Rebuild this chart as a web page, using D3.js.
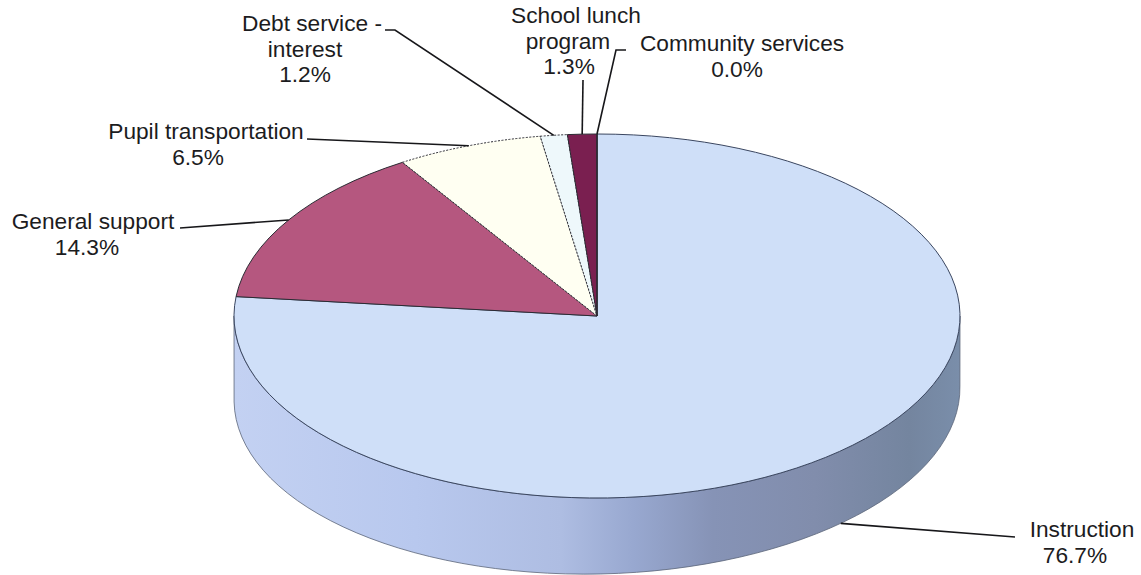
<!DOCTYPE html>
<html>
<head>
<meta charset="utf-8">
<script src="https://cdn.jsdelivr.net/npm/d3@7"></script>
<style>
html, body { margin: 0; padding: 0; background: #fff; }
svg { display: block; }
text { font-family: "Liberation Sans", Arial, sans-serif; font-size: 22.7px; fill: #1c1c1e; }
</style>
</head>
<body>
<svg id="chart" width="1141" height="575"></svg>
<script>
// Expenditure shares, clockwise from twelve o'clock
const categories = ["Instruction", "General support", "Pupil transportation",
  "Debt service - interest", "School lunch program", "Community services"];
const shares = [76.7, 14.3, 6.5, 1.2, 1.3, 0.0];
const labelLines = [
  ["Instruction"],
  ["General support"],
  ["Pupil transportation"],
  ["Debt service -", "interest"],
  ["School lunch", "program"],
  ["Community services"]
];

// Appearance of each slice
const sliceColors = ["#cfdff8", "#b5577f", "#fffff2", "#eef8fb", "#7a1f50", "#7a1f50"];

// Disc geometry; the lower rim of the wall sits on a slightly tilted ellipse
const cx = 597, cy = 316, rx = 363, ry = 182;
const wallCy = 394, wallRy = 180, wallTilt = -1.26 * Math.PI / 180;

// Label layout: first baseline, then the horizontal centre of every line
const labelBaselines = [537, 229, 139, 31, 23, 51];
const labelCentres = [
  [1082, 1075], [93, 87], [206, 198], [312, 305, 305], [576, 568, 569], [742, 737]
];
const lineHeight = 25.5;

// Leader bends, listed from the slice outward
const leaderBends = [
  [[1015, 537]], [[180, 228]], [[307, 139]],
  [[395, 30], [385, 30]], [[583, 80]], [[616, 50], [626, 50]]
];

const svg = d3.select("#chart");
const defs = svg.append("defs");

// Shading along the wall of the disc, left to right
const wallStops = [[0, "#c3d1f2"], [0.25, "#b8c8ee"], [0.45, "#aebde2"], [0.55, "#98a8d0"],
  [0.66, "#8693b6"], [0.8, "#818dac"], [0.93, "#74859f"], [1, "#7a8eaa"]];
const wallGrad = defs.append("linearGradient").attr("id", "wall")
  .attr("gradientUnits", "userSpaceOnUse")
  .attr("x1", cx - rx).attr("x2", cx + rx).attr("y1", 0).attr("y2", 0);
wallGrad.selectAll("stop").data(wallStops).join("stop")
  .attr("offset", d => d[0]).attr("stop-color", d => d[1]);

// Point on the lower rim for a pie angle
const wallRim = angle => {
  const lx = rx * Math.sin(angle), ly = -wallRy * Math.cos(angle);
  return [cx + lx * Math.cos(wallTilt) - ly * Math.sin(wallTilt),
          wallCy + lx * Math.sin(wallTilt) + ly * Math.cos(wallTilt)];
};
// Point on the top rim for a pie angle
const rim = angle => [cx + rx * Math.sin(angle), cy - ry * Math.cos(angle)];

// Visible front wall: lower half of the rim, extruded downward
const [wallLeftX, wallLeftY] = wallRim(-Math.PI / 2);
const [wallRightX, wallRightY] = wallRim(Math.PI / 2);
svg.append("path")
  .attr("d", `M${cx - rx},${cy} L${wallLeftX},${wallLeftY}
    A${rx},${wallRy} ${wallTilt * 180 / Math.PI} 0 0 ${wallRightX},${wallRightY} L${cx + rx},${cy}
    A${rx},${ry} 0 0 1 ${cx - rx},${cy} Z`)
  .attr("fill", "url(#wall)")
  .attr("stroke", "#5b6478").attr("stroke-width", 0.8);

// Top face: a regular pie squashed vertically
const pie = d3.pie().sort(null).value(d => d);
const arcs = pie(shares);
const arc = d3.arc().innerRadius(0).outerRadius(rx);

svg.append("g").attr("transform", `translate(${cx},${cy}) scale(1,${ry / rx})`)
  .selectAll("path").data(arcs).join("path")
  .attr("d", arc)
  .attr("fill", (d, i) => sliceColors[i])
  .attr("stroke", (d, i) => i === 0 ? "#3a4660" : "#2b2b33")
  .attr("stroke-width", 1)
  .attr("stroke-dasharray", (d, i) => i === 2 || i === 3 ? "2 1.5" : null)
  .attr("vector-effect", "non-scaling-stroke");

const mid = d => (d.startAngle + d.endAngle) / 2;

// Leaders run from each slice's rim to its label; Instruction leaves from the wall
const leaderStart = (d, i) => i === 0 ? wallRim(2.416) : rim(mid(d));
const line = d3.line();
svg.append("g").selectAll("path").data(arcs).join("path")
  .attr("d", (d, i) => line([leaderStart(d, i), ...leaderBends[i]]))
  .attr("fill", "none").attr("stroke", "#17171a").attr("stroke-width", 1.6);

// Labels: name lines followed by the share
const labels = svg.append("g").selectAll("text").data(arcs).join("text")
  .attr("text-anchor", "middle");
labels.each(function (d, i) {
  const rows = [...labelLines[i], d.data.toFixed(1) + "%"];
  d3.select(this).selectAll("tspan").data(rows).join("tspan")
    .attr("x", (r, j) => labelCentres[i][j])
    .attr("y", (r, j) => labelBaselines[i] + j * lineHeight)
    .text(r => r);
});
</script>
</body>
</html>
